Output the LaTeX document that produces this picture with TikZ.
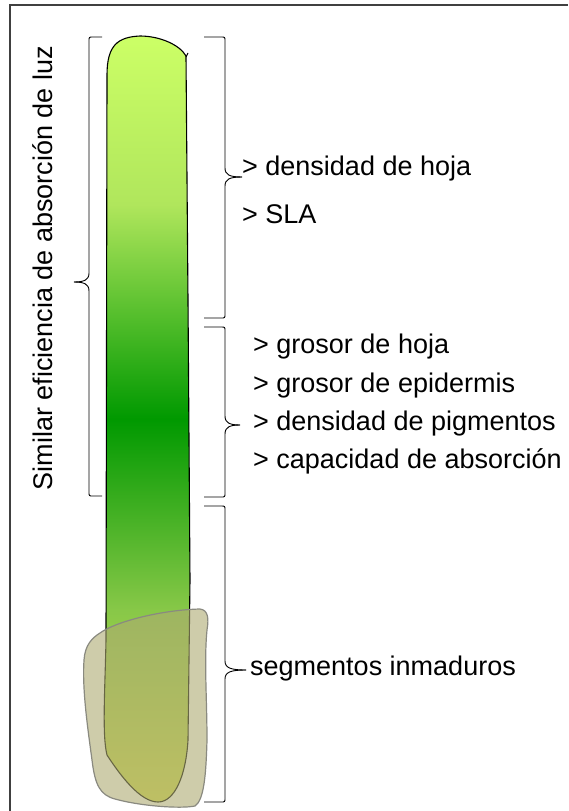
\documentclass[tikz,border=0pt]{standalone}
\usepackage{fontspec}
\setmainfont{Liberation Sans}

\definecolor{leaftop}{HTML}{CCFF66}
\definecolor{leafpale}{HTML}{B0E65C}
\definecolor{leafdark}{HTML}{009900}
\definecolor{leafmid}{HTML}{88C848}
\definecolor{leafbot}{HTML}{D8E050}
\definecolor{budfill}{HTML}{ADAA72}
\definecolor{budline}{HTML}{8A8A80}
\definecolor{framegray}{HTML}{404040}

% green blade, pale at the tip, dark in the middle, yellowish at the base
\pgfdeclareverticalshading{leafshade}{100bp}{%
  color(0bp)=(leafbot); color(25bp)=(leafbot); color(37.5bp)=(leafmid);
  color(50bp)=(leafdark); color(64bp)=(leafpale); color(75bp)=(leaftop);
  color(100bp)=(leaftop)}

\tikzset{
  curly/.style={line width=0.9pt, black},
  lbl/.style={anchor=base west, inner sep=0pt, font=\fontsize{27}{31}\selectfont},
}

\begin{document}
\begin{tikzpicture}[x=1pt, y=-1pt]
  \useasboundingbox (0,0) rectangle (568,811);

  \draw[framegray, line width=1.5pt] (10,811)--(10,5)--(568,5);

  % the blade
  \shade[shading=leafshade] (107,75) .. controls (107,45) and (118,37) .. (140,36)
    .. controls (160,36) and (180,45) .. (186,56)
    -- (188,300) -- (190,580) -- (188,740)
    .. controls (186,775) and (175,802) .. (158,802)
    .. controls (140,802) and (120,775) .. (107,755)
    .. controls (102,735) and (105,690) .. (106,640) -- cycle;
  \draw[line width=1.1pt] (107,75) .. controls (107,45) and (118,37) .. (140,36)
    .. controls (160,36) and (180,45) .. (186,56)
    -- (188,300) -- (190,580) -- (188,740)
    .. controls (186,775) and (175,802) .. (158,802)
    .. controls (140,802) and (120,775) .. (107,755)
    .. controls (102,735) and (105,690) .. (106,640) -- cycle;
  \draw[line width=1.1pt] (186,57)--(188,53);

  % immature part
  \filldraw[fill=budfill, fill opacity=0.6, draw=budline, line width=1.2pt]
    (100,633) .. controls (115,622) and (160,610) .. (200,609)
    .. controls (208,610) and (209,618) .. (207,630)
    .. controls (204,660) and (207,700) .. (207,740)
    .. controls (206,775) and (204,800) .. (195,806)
    .. controls (180,809) and (140,806) .. (115,799)
    .. controls (100,795) and (95,785) .. (92,760)
    .. controls (88,730) and (82,690) .. (84,660)
    .. controls (85,645) and (92,638) .. (100,633) -- cycle;

  % braces
  \coordinate (tipL) at (74,282);
  \coordinate (tipA) at (242,177);
  \coordinate (tipB) at (240,425);
  \coordinate (tipC) at (246,670);

  \draw[curly] (102,37) -- (93,37) .. controls (89,37) .. (89,41) -- (89,273)
    .. controls (89,280) and (84,282) .. (tipL);
  \draw[curly] (102,496) -- (93,496) .. controls (89,496) .. (89,492) -- (89,291)
    .. controls (89,284) and (84,282) .. (tipL);

  \draw[curly] (204,37) -- (221,37) .. controls (225,37) .. (225,41) -- (225,168)
    .. controls (225,175) and (230,177) .. (tipA);
  \draw[curly] (204,318) -- (221,318) .. controls (225,318) .. (225,314) -- (225,186)
    .. controls (225,179) and (230,177) .. (tipA);

  \draw[curly] (204,327) -- (221,327) .. controls (225,327) .. (225,331) -- (225,416)
    .. controls (225,423) and (230,425) .. (tipB);
  \draw[curly] (204,497) -- (221,497) .. controls (225,497) .. (225,493) -- (225,434)
    .. controls (225,427) and (230,425) .. (tipB);

  \draw[curly] (204,506) -- (221,506) .. controls (225,506) .. (225,510) -- (225,661)
    .. controls (225,668) and (231,670) .. (tipC);
  \draw[curly] (204,802) -- (221,802) .. controls (225,802) .. (225,798) -- (225,679)
    .. controls (225,672) and (231,670) .. (tipC);

  % labels
  \node[lbl, rotate=90, anchor=base] (eff) at (52,268) {Similar eficiencia de absorción de luz};

  \node[lbl] (dens) at (242,175) {> densidad de hoja};
  \node[lbl] (sla) at (242,223) {> SLA};

  \node[lbl] (gros) at (253,353) {> grosor de hoja};
  \node[lbl] (epid) at (253,392) {> grosor de epidermis};
  \node[lbl] (pigm) at (253,430) {> densidad de pigmentos};
  \node[lbl] (absc) at (253,468) {> capacidad de absorción};

  \node[lbl] (inma) at (250,675) {segmentos inmaduros};
\end{tikzpicture}
\end{document}
